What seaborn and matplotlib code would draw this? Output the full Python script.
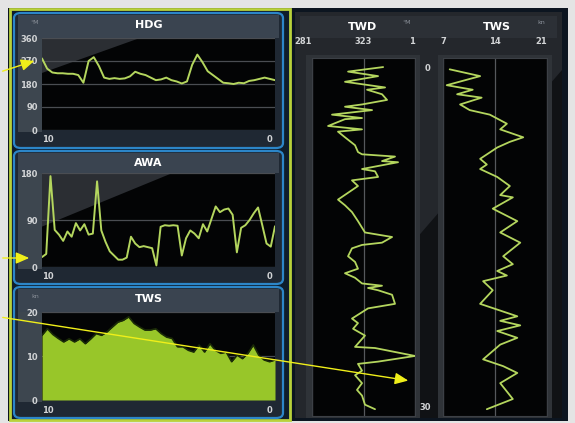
import numpy as np
import matplotlib.pyplot as plt
import seaborn as sns
from matplotlib.patches import Rectangle, FancyBboxPatch, Polygon

W, H = 575, 423

# ---- data ----
# left side: last 10 minutes, oldest on the left
hdg = [280, 240, 225, 222, 222, 220, 220, 215, 185, 270, 285, 250, 205, 200, 203, 200,
       202, 210, 228, 220, 215, 205, 195, 198, 205, 195, 190, 182, 190, 255, 295, 265,
       230, 215, 200, 185, 183, 180, 185, 183, 192, 195, 200, 205, 200, 195]
awa = [19, 25, 174, 71, 62, 50, 68, 58, 84, 70, 82, 62, 64, 164, 70, 48, 30, 22, 14, 14,
       18, 58, 45, 38, 40, 38, 36, 3, 77, 80, 79, 80, 79, 22, 55, 70, 64, 55, 82, 68,
       92, 116, 105, 110, 112, 100, 28, 75, 80, 90, 103, 114, 80, 45, 39, 78]
tws_hist = [14.7, 16.2, 14.9, 14.0, 13.2, 13.9, 13.2, 13.9, 12.8, 13.9, 15.1, 14.7, 15.5,
            16.6, 17.7, 18.1, 18.9, 17.4, 16.6, 15.9, 15.9, 16.2, 15.1, 14.3, 14.0, 12.1,
            12.1, 11.3, 10.9, 12.5, 10.9, 12.8, 11.3, 10.6, 10.9, 8.7, 10.2, 9.4, 10.6,
            12.5, 10.2, 9.1, 8.7, 9.1]

# right side: vertical traces, minutes ago going down
twd_val = [339.0, 310.4, 334.9, 307.9, 340.6, 325.9, 338.1, 342.2, 321.8, 307.9, 330.0,
           297.3, 321.8, 307.9, 294.1, 321.8, 302.2, 307.9, 316.1, 318.5, 321.8, 348.7,
           338.1, 351.2, 321.8, 332.4, 334.9, 313.6, 318.5, 302.2, 307.9, 313.6, 318.5,
           324.2, 346.3, 338.1, 321.8, 313.6, 310.4, 316.1, 318.5, 307.9, 316.1, 321.8,
           338.1, 326.7, 334.9, 346.3, 348.7, 326.7, 313.6, 318.5, 314.5, 324.2, 316.1,
           332.4, 365.0, 334.9, 318.5, 321.8, 316.1, 321.8, 317.7, 321.8, 324.2, 332.4]
twd_min = [0.0, 0.4, 0.8, 1.3, 1.8, 2.0, 2.4, 2.9, 3.3, 3.5, 3.8, 4.2, 4.5, 4.6, 5.2, 5.5,
           5.7, 6.2, 6.9, 7.5, 7.7, 7.9, 8.3, 8.4, 9.0, 9.2, 9.7, 10.0, 10.5, 11.7, 12.2,
           12.8, 13.6, 14.6, 15.0, 15.5, 15.7, 16.0, 16.7, 17.2, 17.8, 18.2, 18.6, 19.1,
           19.3, 19.5, 19.7, 20.1, 20.9, 21.3, 22.2, 22.6, 23.1, 23.7, 24.7, 24.8, 25.5,
           26.0, 26.2, 26.8, 27.2, 27.9, 28.5, 29.0, 29.8, 30.2]
tws_val = [7.9, 12.0, 7.5, 11.0, 8.9, 12.2, 9.3, 10.6, 13.3, 15.6, 14.7, 17.8, 16.0, 14.3,
           12.0, 12.9, 12.0, 14.3, 16.0, 14.7, 16.4, 13.7, 17.0, 14.7, 17.4, 15.1, 16.4,
           14.3, 15.6, 12.4, 13.7, 12.0, 17.0, 14.7, 17.4, 14.3, 17.0, 14.7, 12.4, 15.1,
           17.0, 14.7, 16.4, 12.9]
tws_min = [0.2, 0.8, 1.6, 2.0, 2.4, 2.7, 3.3, 3.8, 4.2, 5.0, 5.5, 6.2, 6.6, 7.1, 8.1, 8.6,
           9.0, 9.7, 10.5, 11.3, 11.5, 12.5, 13.6, 14.6, 15.5, 16.7, 17.4, 18.0, 18.4,
           18.9, 19.7, 20.9, 22.0, 22.4, 22.8, 23.3, 23.9, 24.5, 25.8, 26.4, 27.0, 27.9,
           29.3, 30.2]

LINE = '#b4d65e'
TXT = '#d2d4d6'

sns.set_style('dark')
plt.rcParams['font.family'] = ['DejaVu Sans']

fig = plt.figure(figsize=(W / 100, H / 100), dpi=100, facecolor='#e4e4e4')


def fr(x, y):
    return x / W, 1 - y / H


def rect(x0, y0, x1, y1, **kw):
    kw.setdefault('zorder', -5)
    kw.setdefault('edgecolor', 'none')
    p = Rectangle(fr(x0, y1), (x1 - x0) / W, (y1 - y0) / H, transform=fig.transFigure, **kw)
    fig.patches.append(p)


def rbox(x0, y0, x1, y1, **kw):
    kw.setdefault('zorder', -4)
    p = FancyBboxPatch(fr(x0, y1), (x1 - x0) / W, (y1 - y0) / H,
                       boxstyle='round,pad=0,rounding_size=0.012', transform=fig.transFigure, **kw)
    fig.patches.append(p)


def px_axes(x0, y0, x1, y1):
    return fig.add_axes([x0 / W, 1 - y1 / H, (x1 - x0) / W, (y1 - y0) / H])


def glare(ax, pts, color):
    ax.add_patch(Polygon(pts, closed=True, transform=ax.transAxes, facecolor=color,
                         edgecolor='none', zorder=0))


# screen backgrounds
rect(8, 8, 568, 421, facecolor='#0c1520')
rect(295, 12, 562, 418, facecolor='#24272c', zorder=-4.5)
fig.patches.append(Polygon([fr(415, 240), fr(562, 70), fr(562, 418), fr(415, 418)], closed=True,
                           transform=fig.transFigure, facecolor='#101215', edgecolor='none', zorder=-4.4))
rect(10, 9, 290, 420, facecolor='#0f1d2b', edgecolor='#b9d23a', lw=2, zorder=-4.6)

# ---- left column panels ----
panels = [
    ('HDG', '°M', hdg, (14, 13, 283, 148), (42, 38, 275, 130), [0, 90, 180, 270, 360], (0, 360), 140),
    ('AWA', '', awa, (14, 151, 283, 284), (42, 173, 275, 267), [0, 90, 180], (0, 180), 276),
    ('TWS', 'kn', tws_hist, (14, 287, 283, 418), (42, 312, 275, 400), [0, 10, 20], (0, 20), 410),
]

for title, unit, vals, box, area, yt, ylim, xlab_y in panels:
    bx0, by0, bx1, by1 = box
    rbox(bx0, by0, bx1, by1, facecolor='#1f2833', edgecolor='#2c86c8', lw=1.6)
    rect(bx0 + 4, by0 + 2, bx1 - 4, area[1], facecolor='#3a4450', zorder=-3)
    rect(bx0 + 4, area[1], area[0], area[3] + 2, facecolor='#3d464f', zorder=-3)
    fig.text((bx0 + bx1) / 2 / W, 1 - (by0 + 12) / H, title, color='white', fontsize=8,
             fontweight='bold', ha='center', va='center')
    if unit:
        fig.text(35 / W, 1 - (by0 + 9) / H, unit, color='#8a9099', fontsize=4.5, ha='center', va='center')

    ax = px_axes(*area)
    ax.set_facecolor('#030405')
    x = np.linspace(10, 0, len(vals))
    if title == 'TWS':
        ax.fill_between(x, vals, color='#98c629', zorder=2, lw=0)
        sns.lineplot(x=x, y=vals, ax=ax, color='#1a2a08', lw=1.2, zorder=3)
    else:
        glare(ax, [(0, 1), (0.42 if title == 'HDG' else 0.56, 1), (0, 0.62 if title == 'HDG' else 0.43)],
              '#2b2e33')
        sns.lineplot(x=x, y=vals, ax=ax, color=LINE, lw=1.4, zorder=3)
    ax.set_xlim(10, 0)
    ax.set_ylim(*ylim)
    ax.set_yticks(yt)
    ax.set_yticklabels([str(v) for v in yt])
    ax.grid(axis='y', color='#4a4d52', lw=0.9)
    ax.grid(axis='x', visible=False)
    ax.set_xticks([])
    ax.tick_params(axis='y', length=0, pad=3, labelsize=6, labelcolor=TXT)
    for lab in ax.get_yticklabels():
        lab.set_fontweight('bold')
    for s in ax.spines.values():
        s.set_visible(False)
    ax.text(0.0, -(xlab_y - area[3]) / (area[3] - area[1]), '10', transform=ax.transAxes,
            color=TXT, fontsize=6, fontweight='bold', ha='left', va='center')
    ax.text(0.99, -(xlab_y - area[3]) / (area[3] - area[1]), '0', transform=ax.transAxes,
            color=TXT, fontsize=6, fontweight='bold', ha='right', va='center')

# ---- right side: vertical trend columns ----
rect(300, 16, 557, 38, facecolor='#2c3036', zorder=-3)
rect(306, 55, 420, 418, facecolor='#2f3338', zorder=-3)
rect(438, 55, 552, 418, facecolor='#2f3338', zorder=-3)

fig.text(362 / W, 1 - 27 / H, 'TWD', color='white', fontsize=8, fontweight='bold', ha='center', va='center')
fig.text(407 / W, 1 - 22 / H, '°M', color='#8a9099', fontsize=4.5, ha='center', va='center')
fig.text(497 / W, 1 - 27 / H, 'TWS', color='white', fontsize=8, fontweight='bold', ha='center', va='center')
fig.text(541 / W, 1 - 22 / H, 'kn', color='#8a9099', fontsize=4.5, ha='center', va='center')

cols = [
    (twd_val, twd_min, (312, 58, 415, 416), (281, 365), [281, 323, 365], ['281', '323', '1']),
    (tws_val, tws_min, (443, 58, 547, 416), (7, 21), [7, 14, 21], ['7', '14', '21']),
]
for i, (vals, mins, area, xlim, xt, xl) in enumerate(cols):
    ax = px_axes(*area)
    ax.set_facecolor('#030405')
    sns.lineplot(x=vals, y=mins, ax=ax, sort=False, orient='y', estimator=None,
                 color=LINE, lw=1.3, zorder=3)
    ax.set_xlim(*xlim)
    ax.set_ylim(30.8, -0.8)
    ax.set_xticks(xt)
    ax.set_xticklabels(xl)
    ax.xaxis.tick_top()
    ax.tick_params(axis='x', length=0, pad=9, labelsize=6, labelcolor=TXT)
    ax.grid(axis='x', color='#55585c', lw=0.9)
    ax.grid(axis='y', visible=False)
    labs = ax.get_xticklabels()
    labs[0].set_horizontalalignment('right' if i == 0 else 'center')
    labs[-1].set_horizontalalignment('right')
    for lab in labs:
        lab.set_fontweight('bold')
    if i == 1:
        ax.set_yticks([0, 30])
        ax.set_yticklabels(['0', '30'])
        ax.tick_params(axis='y', length=0, pad=9, labelsize=6, labelcolor=TXT)
        for lab in ax.get_yticklabels():
            lab.set_fontweight('bold')
    else:
        ax.set_yticks([])
    ax.set_xlabel('')
    ax.set_ylabel('')
    for s in ax.spines.values():
        s.set_color('#3c4046')

# ---- yellow call-out arrows ----
arrow = dict(arrowstyle='-|>,head_length=0.8,head_width=0.35', color='#f0ef1a', lw=1.0)
for tail, tip in [((0, 72), (37, 60)), ((0, 258), (32, 258)), ((0, 317), (411, 381))]:
    fig.add_artist(plt.matplotlib.text.Annotation(
        '', xy=(tip[0], H - tip[1]), xytext=(tail[0], H - tail[1]),
        xycoords='figure pixels', textcoords='figure pixels', arrowprops=arrow, zorder=20))

fig.savefig('out.png', dpi=100, facecolor=fig.get_facecolor())
